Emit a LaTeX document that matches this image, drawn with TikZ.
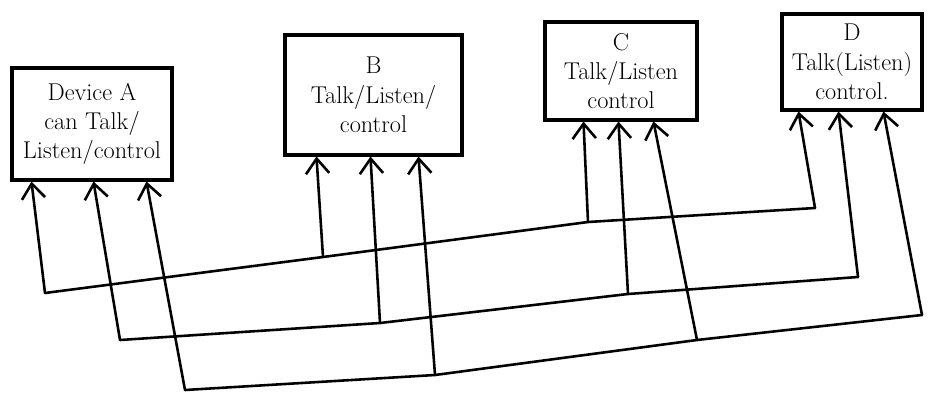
\documentclass[tikz,border=0pt]{standalone}
\usetikzlibrary{arrows.meta, positioning, calc}

\begin{document}
\begin{tikzpicture}[x=0.03cm, y=-0.03cm, >={Straight Barb[length=4.5mm,width=7mm]}]
    \tikzset{devbox/.style={draw, line width=2.6pt, align=center, font=\huge, inner sep=2pt}}
    \tikzset{bus/.style={line width=2.2pt, line join=round, line cap=round}}
    \tikzset{leg/.style={bus, ->}}
    \useasboundingbox (0,0) rectangle (934,394);
    % devices
    \node[devbox, minimum width=4.8cm, minimum height=3.36cm] (A) at (92,124) {Device A\\can Talk/\\Listen/control};
    \node[devbox, minimum width=5.31cm, minimum height=3.6cm] (B) at (373.5,95) {B\\Talk/Listen/\\control};
    \node[devbox, minimum width=4.56cm, minimum height=2.94cm] (C) at (621,71) {C\\Talk/Listen\\control};
    \node[devbox, minimum width=4.2cm, minimum height=2.88cm] (D) at (852,62) {D\\Talk(Listen)\\control.};
    % bus corners and taps
    \coordinate (a1) at (45,293);  \coordinate (b1) at (323,257); \coordinate (c1) at (588,222); \coordinate (d1) at (815,208);
    \coordinate (a2) at (120,340); \coordinate (b2) at (380,323); \coordinate (c2) at (628,294); \coordinate (d2) at (858,277);
    \coordinate (a3) at (185,390); \coordinate (b3) at (435,375); \coordinate (c3) at (697,340); \coordinate (d3) at (922,315);
    \draw[bus] (a1) -- (b1) -- (c1) -- (d1);
    \draw[bus] (a2) -- (b2) -- (c2) -- (d2);
    \draw[bus] (a3) -- (b3) -- (c3) -- (d3);
    % legs up into the devices
    \draw[leg] (a1) -- ($(A.south west)+(21,0)$);
    \draw[leg] (a2) -- ($(A.south west)+(83,0)$);
    \draw[leg] (a3) -- ($(A.south west)+(136,0)$);
    \draw[leg] (b1) -- ($(B.south west)+(33,0)$);
    \draw[leg] (b2) -- ($(B.south west)+(87,0)$);
    \draw[leg] (b3) -- ($(B.south west)+(135,0)$);
    \draw[leg] (c1) -- ($(C.south west)+(40,0)$);
    \draw[leg] (c2) -- ($(C.south west)+(75,0)$);
    \draw[leg] (c3) -- ($(C.south west)+(110,0)$);
    \draw[leg] (d1) -- ($(D.south west)+(18,0)$);
    \draw[leg] (d2) -- ($(D.south west)+(58,0)$);
    \draw[leg] (d3) -- ($(D.south west)+(103,0)$);
\end{tikzpicture}
\end{document}
